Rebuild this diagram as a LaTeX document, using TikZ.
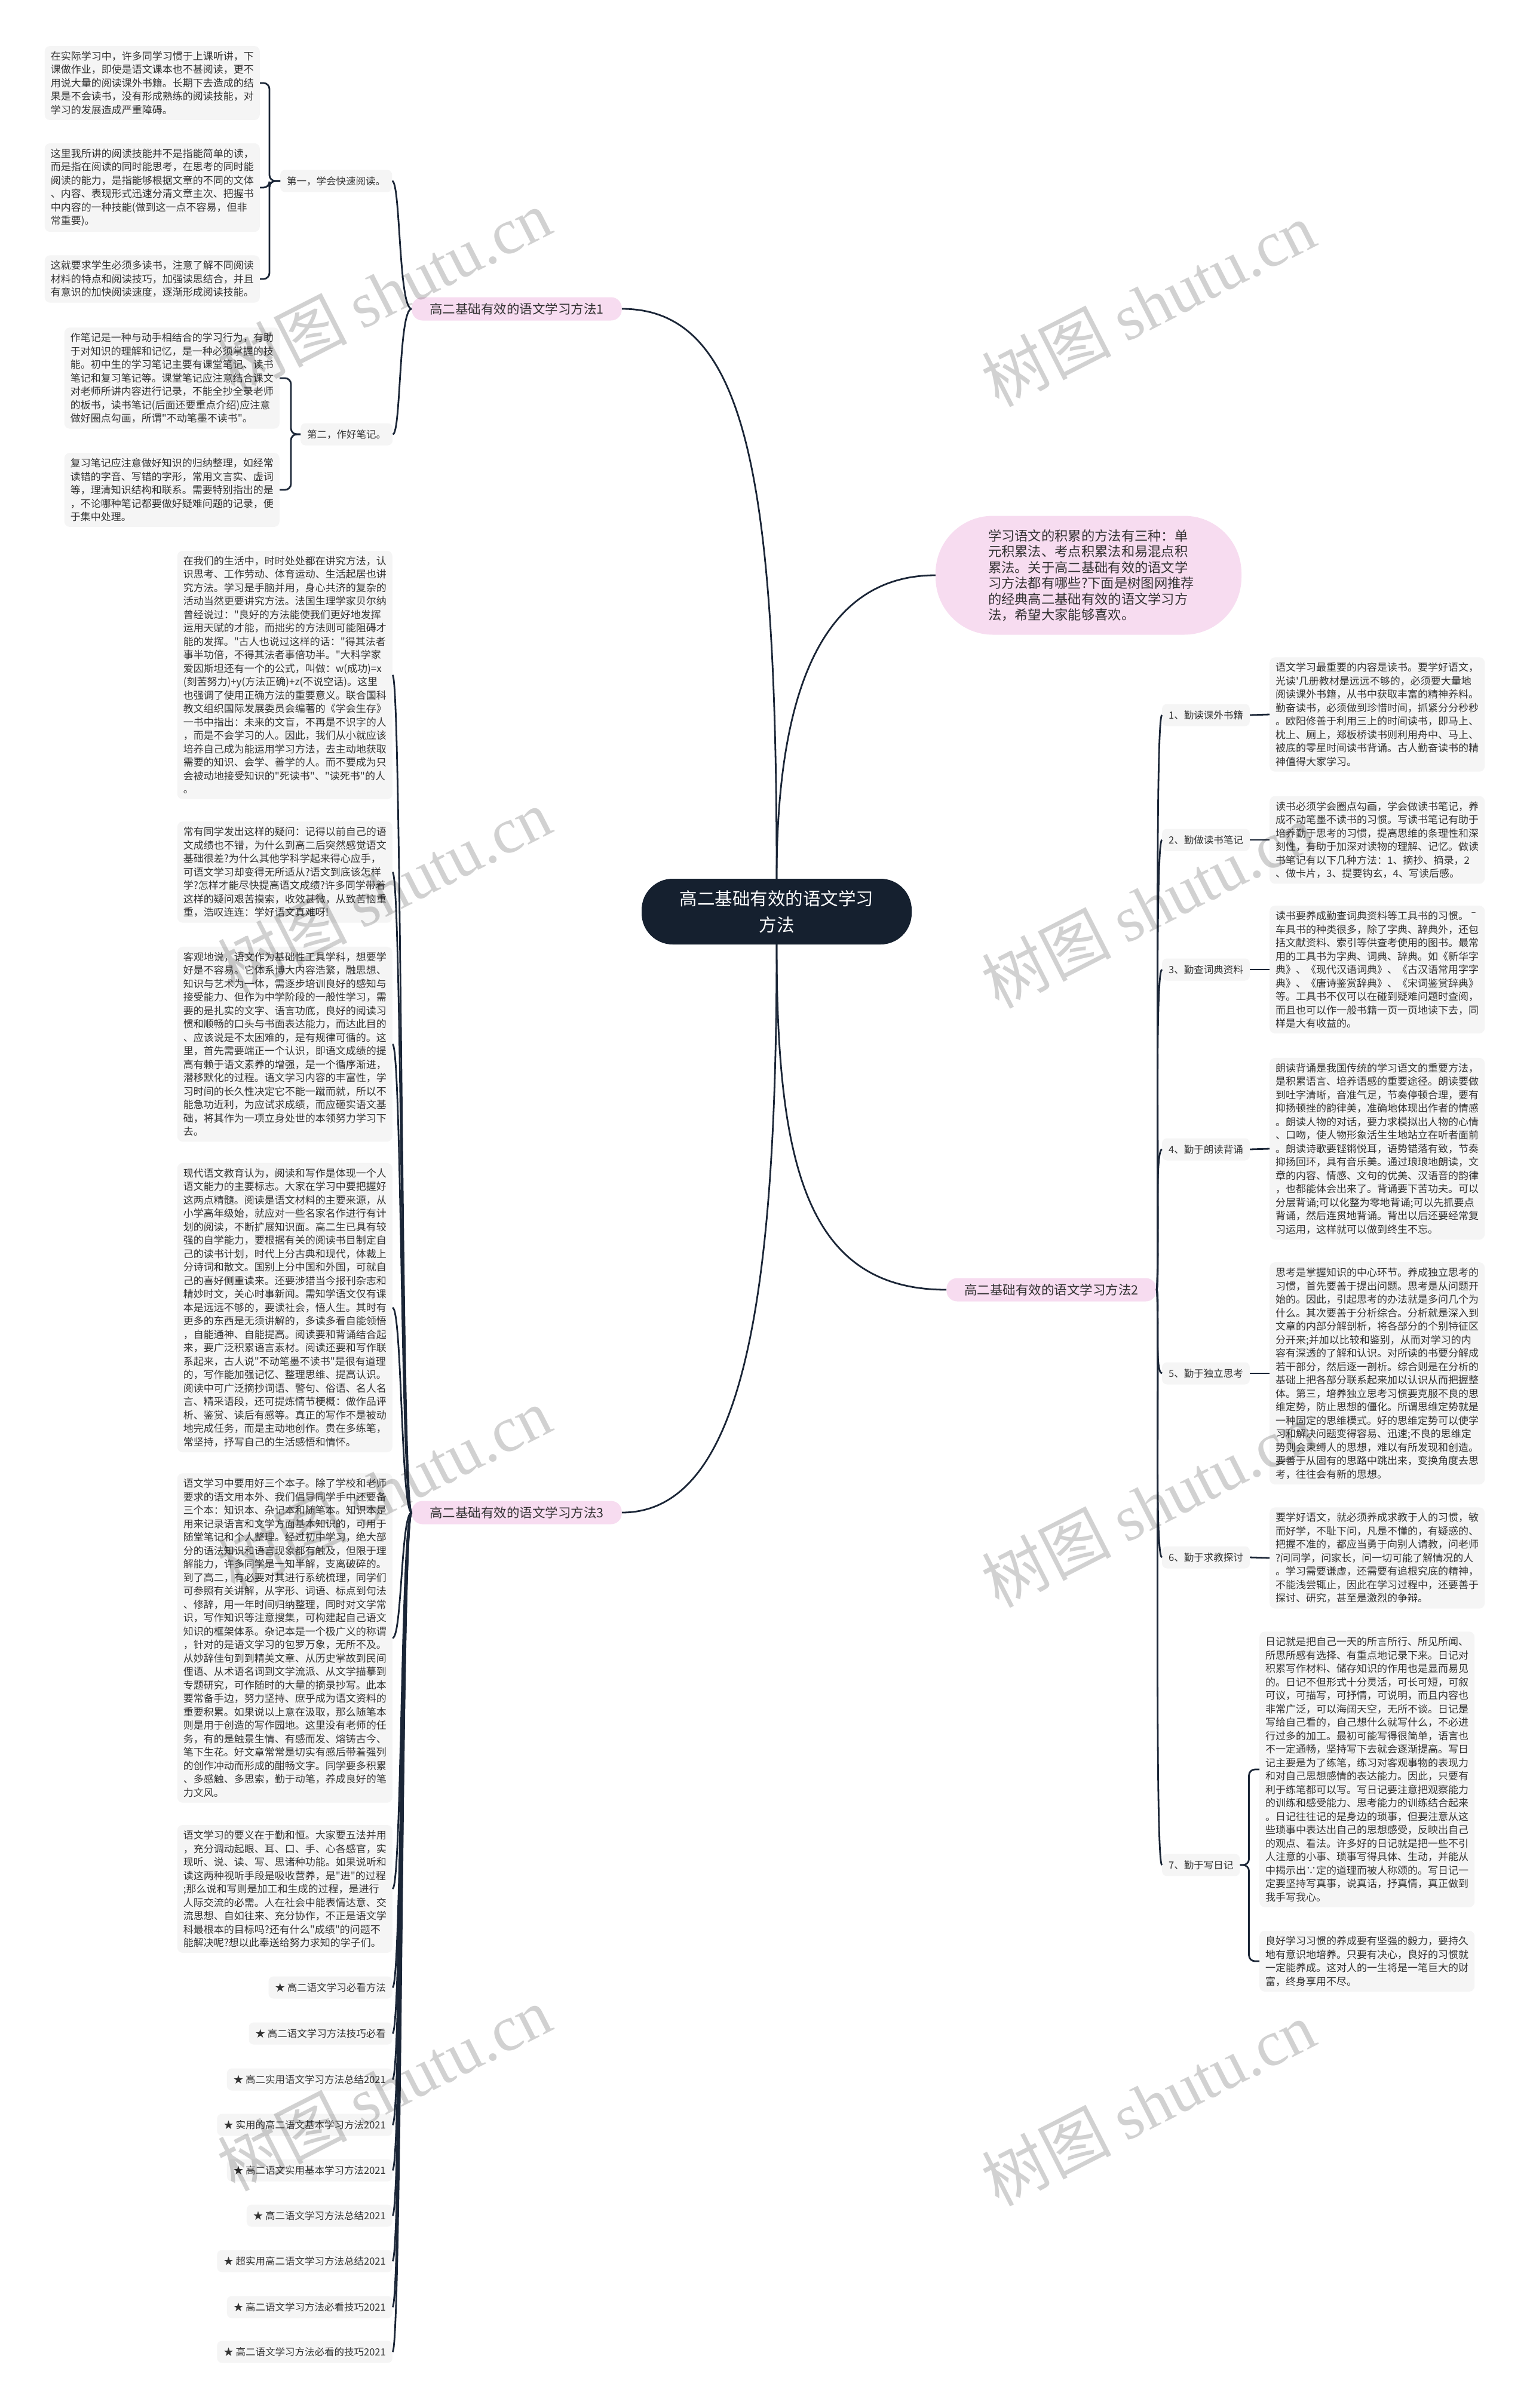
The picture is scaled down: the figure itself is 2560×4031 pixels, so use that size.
\documentclass[tikz,border=0pt]{standalone}
\usepackage{fontspec}
\setmainfont{Noto Sans CJK SC}[Ligatures=TeXOff]
\newfontfamily\wmlatin{Liberation Serif}
\usepackage{tikz}
\definecolor{zhutilan}{HTML}{15202F}
\definecolor{xianlan}{HTML}{1B2637}
\definecolor{fenhong}{HTML}{F7DCF0}
\definecolor{qianhui}{HTML}{F5F5F5}
\definecolor{wenzi}{HTML}{333333}
\newcommand\duanzi{\fontsize{17}{22.5}\selectfont}
\newcommand\biaozi{\fontsize{16.5}{20}\selectfont}
\newcommand\fenzi{\fontsize{21.5}{26}\selectfont}
\newcommand\zhuzi{\fontsize{29.5}{44}\selectfont}
\newcommand\daozi{\fontsize{22.3}{26.5}\selectfont}
\newcommand\yinzi{\fontsize{108}{108}\selectfont}

\begin{document}
\begin{tikzpicture}[x=1pt, y=-1pt,
      zhuti/.style={fill=zhutilan, text=white, rounded corners=52, minimum width=452pt,
                    minimum height=110pt, align=center, font=\zhuzi},
      daoyu/.style={fill=fenhong, text=wenzi, rounded corners=96, minimum width=512pt,
                    minimum height=199pt, text width=336pt, align=left, font=\daozi},
      fenzhi/.style={fill=fenhong, text=wenzi, rounded corners=18, inner xsep=30pt,
                     minimum height=39pt, font=\fenzi},
      biaoqian/.style={fill=qianhui, text=wenzi, rounded corners=8, inner xsep=11pt,
                       minimum height=37pt, font=\biaozi},
      wenben/.style={fill=qianhui, text=wenzi, rounded corners=9, text width=340pt,
                     inner xsep=10pt, inner ysep=9pt, align=left, font=\duanzi},
      lianxian/.style={draw=xianlan, line width=2.8pt},
      shuiyin/.style={text=black, opacity=0.18, font=\yinzi, rotate=27}]
    \fill[white] (0,0) rectangle (2560,4031);
    \useasboundingbox (0,0) rectangle (2560,4031);

    \node[zhuti] (zhongxin) at (1300,1526) {高二基础有效的语文学习\\方法};
    \node[daoyu] (daoyu) at (1822,963) {学习语文的积累的方法有三种：单\\元积累法、考点积累法和易混点积\\累法。关于高二基础有效的语文学\\习方法都有哪些?下面是树图网推荐\\的经典高二基础有效的语文学习方\\法，希望大家能够喜欢。};
    \node[fenzhi] (fangfa1) at (865,517) {高二基础有效的语文学习方法1};
    \node[fenzhi] (fangfa2) at (1760,2159) {高二基础有效的语文学习方法2};
    \node[fenzhi] (fangfa3) at (865,2532) {高二基础有效的语文学习方法3};

    \draw[lianxian] (zhongxin.north) .. controls (1300,800) and (1250,517) .. (fangfa1.east);
    \draw[lianxian] (zhongxin.north) .. controls (1300,1150) and (1380,963) .. (daoyu.west);
    \draw[lianxian] (zhongxin.south) .. controls (1300,1950) and (1350,2159) .. (fangfa2.west);
    \draw[lianxian] (zhongxin.south) .. controls (1300,2150) and (1250,2532) .. (fangfa3.east);

    \node[biaoqian, anchor=west] (yuedu) at (469,303) {第一，学会快速阅读。};
    \node[biaoqian, anchor=west] (biji) at (503,727) {第二，作好笔记。};
    \draw[lianxian] (fangfa1.west) .. controls +(-22,0) and +(14,0) .. (yuedu.east);
    \draw[lianxian] (fangfa1.west) .. controls +(-22,0) and +(14,0) .. (biji.east);

    \node[wenben, anchor=east] (yd1) at (435,139) {在实际学习中，许多同学习惯于上课听讲，下\\课做作业，即使是语文课本也不甚阅读，更不\\用说大量的阅读课外书籍。长期下去造成的结\\果是不会读书，没有形成熟练的阅读技能，对\\学习的发展造成严重障碍。};
    \node[wenben, anchor=east] (yd2) at (435,314) {这里我所讲的阅读技能并不是指能简单的读，\\而是指在阅读的同时能思考，在思考的同时能\\阅读的能力，是指能够根据文章的不同的文体\\、内容、表现形式迅速分清文章主次、把握书\\中内容的一种技能(做到这一点不容易，但非\\常重要)。};
    \node[wenben, anchor=east] (yd3) at (435,467) {这就要求学生必须多读书，注意了解不同阅读\\材料的特点和阅读技巧，加强读思结合，并且\\有意识的加快阅读速度，逐渐形成阅读技能。};
    \node[wenben, anchor=east] (bj1) at (468,633) {作笔记是一种与动手相结合的学习行为，有助\\于对知识的理解和记忆，是一种必须掌握的技\\能。初中生的学习笔记主要有课堂笔记、读书\\笔记和复习笔记等。课堂笔记应注意结合课文\\对老师所讲内容进行记录，不能全抄全录老师\\的板书，读书笔记(后面还要重点介绍)应注意\\做好圈点勾画，所谓"不动笔墨不读书"。};
    \node[wenben, anchor=east] (bj2) at (468,820) {复习笔记应注意做好知识的归纳整理，如经常\\读错的字音、写错的字形，常用文言实、虚词\\等，理清知识结构和联系。需要特别指出的是\\，不论哪种笔记都要做好疑难问题的记录，便\\于集中处理。};
    \foreach \k in {yd1,yd2,yd3}
      \draw[lianxian, rounded corners=10] (yuedu.west) -- ++(-18,0) |- (\k.east);
    \foreach \k in {bj1,bj2}
      \draw[lianxian, rounded corners=10] (biji.west) -- ++(-16,0) |- (\k.east);

    \node[wenben, anchor=east] (duan1) at (657,1130) {在我们的生活中，时时处处都在讲究方法，认\\识思考、工作劳动、体育运动、生活起居也讲\\究方法。学习是手脑并用，身心共济的复杂的\\活动当然更要讲究方法。法国生理学家贝尔纳\\曾经说过："良好的方法能使我们更好地发挥\\运用天赋的才能，而拙劣的方法则可能阻碍才\\能的发挥。"古人也说过这样的话："得其法者\\事半功倍，不得其法者事倍功半。"大科学家\\爱因斯坦还有一个的公式，叫做：w(成功)=x\\(刻苦努力)+y(方法正确)+z(不说空话)。这里\\也强调了使用正确方法的重要意义。联合国科\\教文组织国际发展委员会编著的《学会生存》\\一书中指出：未来的文盲，不再是不识字的人\\，而是不会学习的人。因此，我们从小就应该\\培养自己成为能运用学习方法，去主动地获取\\需要的知识、会学、善学的人。而不要成为只\\会被动地接受知识的"死读书"、"读死书"的人\\。};
    \node[wenben, anchor=east] (duan2) at (657,1460) {常有同学发出这样的疑问：记得以前自己的语\\文成绩也不错，为什么到高二后突然感觉语文\\基础很差?为什么其他学科学起来得心应手，\\可语文学习却变得无所适从?语文到底该怎样\\学?怎样才能尽快提高语文成绩?许多同学带着\\这样的疑问艰苦摸索，收效甚微，从致苦恼重\\重，浩叹连连：学好语文真难呀!};
    \node[wenben, anchor=east] (duan3) at (657,1748) {客观地说，语文作为基础性工具学科，想要学\\好是不容易。它体系博大内容浩繁，融思想、\\知识与艺术为一体，需逐步培训良好的感知与\\接受能力、但作为中学阶段的一般性学习，需\\要的是扎实的文字、语言功底，良好的阅读习\\惯和顺畅的口头与书面表达能力，而达此目的\\、应该说是不太困难的，是有规律可循的。这\\里，首先需要端正一个认识，即语文成绩的提\\高有赖于语文素养的增强，是一个循序渐进，\\潜移默化的过程。语文学习内容的丰富性，学\\习时间的长久性决定它不能一蹴而就，所以不\\能急功近利，为应试求成绩，而应砸实语文基\\础，将其作为一项立身处世的本领努力学习下\\去。};
    \node[wenben, anchor=east] (duan4) at (657,2189) {现代语文教育认为，阅读和写作是体现一个人\\语文能力的主要标志。大家在学习中要把握好\\这两点精髓。阅读是语文材料的主要来源，从\\小学高年级始，就应对一些名家名作进行有计\\划的阅读，不断扩展知识面。高二生已具有较\\强的自学能力，要根据有关的阅读书目制定自\\己的读书计划，时代上分古典和现代，体裁上\\分诗词和散文。国别上分中国和外国，可就自\\己的喜好侧重读来。还要涉猎当今报刊杂志和\\精妙时文，关心时事新闻。需知学语文仅有课\\本是远远不够的，要读社会，悟人生。其时有\\更多的东西是无须讲解的，多读多看自能领悟\\，自能通神、自能提高。阅读要和背诵结合起\\来，要广泛积累语言素材。阅读还要和写作联\\系起来，古人说"不动笔墨不读书"是很有道理\\的，写作能加强记忆、整理思维、提高认识。\\阅读中可广泛摘抄词语、警句、俗语、名人名\\言、精采语段，还可提炼情节梗概：做作品评\\析、鉴赏、读后有感等。真正的写作不是被动\\地完成任务，而是主动地创作。贵在多练笔，\\常坚持，抒写自己的生活感悟和情怀。};
    \node[wenben, anchor=east] (duan5) at (657,2742) {语文学习中要用好三个本子。除了学校和老师\\要求的语文用本外、我们倡导同学手中还要备\\三个本：知识本、杂记本和随笔本。知识本是\\用来记录语言和文学方面基本知识的，可用于\\随堂笔记和个人整理。经过初中学习，绝大部\\分的语法知识和语言现象都有触及，但限于理\\解能力，许多同学是一知半解，支离破碎的。\\到了高二，有必要对其进行系统梳理，同学们\\可参照有关讲解，从字形、词语、标点到句法\\、修辞，用一年时间归纳整理，同时对文学常\\识，写作知识等注意搜集，可构建起自己语文\\知识的框架体系。杂记本是一个极广义的称谓\\，针对的是语文学习的包罗万象，无所不及。\\从妙辞佳句到到精美文章、从历史掌故到民间\\俚语、从术语名词到文学流派、从文学描摹到\\专题研究，可作随时的大量的摘录抄写。此本\\要常备手边，努力坚持、庶乎成为语文资料的\\重要积累。如果说以上意在汲取，那么随笔本\\则是用于创造的写作园地。这里没有老师的任\\务，有的是触景生情、有感而发、熔铸古今、\\笔下生花。好文章常常是切实有感后带着强列\\的创作冲动而形成的酣畅文字。同学要多积累\\、多感触、多思索，勤于动笔，养成良好的笔\\力文风。};
    \node[wenben, anchor=east] (duan6) at (657,3162) {语文学习的要义在于勤和恒。大家要五法并用\\，充分调动起眼、耳、口、手、心各感官，实\\现听、说、读、写、思诸种功能。如果说听和\\读这两种视听手段是吸收营养，是"进"的过程\\;那么说和写则是加工和生成的过程，是进行\\人际交流的必需。人在社会中能表情达意、交\\流思想、自如往来、充分协作，不正是语文学\\科最根本的目标吗?还有什么"成绩"的问题不\\能解决呢?想以此奉送给努力求知的学子们。};
    \foreach \y/\t [count=\i] in {3327/高二语文学习必看方法, 3404/高二语文学习方法技巧必看,
        3481/高二实用语文学习方法总结2021, 3557/实用的高二语文基本学习方法2021,
        3633/高二语文实用基本学习方法2021, 3709/高二语文学习方法总结2021,
        3785/超实用高二语文学习方法总结2021, 3862/高二语文学习方法必看技巧2021,
        3937/高二语文学习方法必看的技巧2021}
      \node[biaoqian, anchor=east] (lian\i) at (657,\y) {★ \t};
    \foreach \k in {duan1,duan2,duan3,duan4,duan5,duan6,lian1,lian2,lian3,lian4,lian5,lian6,lian7,lian8,lian9}
      \draw[lianxian] (fangfa3.west) .. controls +(-18,0) and +(16,0) .. (\k.east);

    \foreach \y/\t [count=\i] in {1197/1、勤读课外书籍, 1406/2、勤做读书笔记, 1623/3、勤查词典资料,
        1924/4、勤于朗读背诵, 2299/5、勤于独立思考, 2607/6、勤于求教探讨, 3122/7、勤于写日记}
      \node[biaoqian, anchor=west] (qin\i) at (1945,\y) {\t};
    \foreach \i in {1,...,7}
      \draw[lianxian] (fangfa2.east) .. controls +(6,0) and +(-14,0) .. (qin\i.west);

    \node[wenben, anchor=west] (shuo1) at (2125,1196) {语文学习最重要的内容是读书。要学好语文，\\光读'几册教材是远远不够的，必须要大量地\\阅读课外书籍，从书中获取丰富的精神养料。\\勤奋读书，必须做到珍惜时间，抓紧分分秒秒\\。欧阳修善于利用三上的时间读书，即马上、\\枕上、厕上，郑板桥读书则利用舟中、马上、\\被底的零星时间读书背诵。古人勤奋读书的精\\神值得大家学习。};
    \node[wenben, anchor=west] (shuo2) at (2125,1406) {读书必须学会圈点勾画，学会做读书笔记，养\\成不动笔墨不读书的习惯。写读书笔记有助于\\培养勤于思考的习惯，提高思维的条理性和深\\刻性，有助于加深对读物的理解、记忆。做读\\书笔记有以下几种方法：1、摘抄、摘录，2\\、做卡片，3、提要钩玄，4、写读后感。};
    \node[wenben, anchor=west] (shuo3) at (2125,1623) {读书要养成勤查词典资料等工具书的习惯。ˉ\\车具书的种类很多，除了字典、辞典外，还包\\括文献资料、索引等供查考使用的图书。最常\\用的工具书为字典、词典、辞典。如《新华字\\典》、《现代汉语词典》、《古汉语常用字字\\典》、《唐诗鉴赏辞典》、《宋词鉴赏辞典》\\等。工具书不仅可以在碰到疑难问题时查阅，\\而且也可以作一般书籍一页一页地读下去，同\\样是大有收益的。};
    \node[wenben, anchor=west] (shuo4) at (2125,1923) {朗读背诵是我国传统的学习语文的重要方法，\\是积累语言、培养语感的重要途径。朗读要做\\到吐字清晰，音准气足，节奏停顿合理，要有\\抑扬顿挫的韵律美，准确地体现出作者的情感\\。朗读人物的对话，要力求模拟出人物的心情\\、口吻，使人物形象活生生地站立在听者面前\\。朗读诗歌要铿锵悦耳，语势错落有致，节奏\\抑扬回环，具有音乐美。通过琅琅地朗读，文\\章的内容、情感、文句的优美、汉语音的韵律\\，也都能体会出来了。背诵要下苦功夫。可以\\分层背诵;可以化整为零地背诵;可以先抓要点\\背诵，然后连贯地背诵。背出以后还要经常复\\习运用，这样就可以做到终生不忘。};
    \node[wenben, anchor=west] (shuo5) at (2125,2299) {思考是掌握知识的中心环节。养成独立思考的\\习惯，首先要善于提出问题。思考是从问题开\\始的。因此，引起思考的办法就是多问几个为\\什么。其次要善于分析综合。分析就是深入到\\文章的内部分解剖析，将各部分的个别特征区\\分开来;并加以比较和鉴别，从而对学习的内\\容有深透的了解和认识。对所读的书要分解成\\若干部分，然后逐一剖析。综合则是在分析的\\基础上把各部分联系起来加以认识从而把握整\\体。第三，培养独立思考习惯要克服不良的思\\维定势，防止思想的僵化。所谓思维定势就是\\一种固定的思维模式。好的思维定势可以使学\\习和解决问题变得容易、迅速;不良的思维定\\势则会束缚人的思想，难以有所发现和创造。\\要善于从固有的思路中跳出来，变换角度去思\\考，往往会有新的思想。};
    \node[wenben, anchor=west] (shuo6) at (2125,2608) {要学好语文，就必须养成求教于人的习惯，敏\\而好学，不耻下问，凡是不懂的，有疑惑的、\\把握不准的，都应当勇于向别人请教，问老师\\?问同学，问家长，问一切可能了解情况的人\\。学习需要谦虚，还需要有追根究底的精神，\\不能浅尝辄止，因此在学习过程中，还要善于\\探讨、研究，甚至是激烈的争辩。};
    \node[wenben, anchor=west] (shuo7) at (2108,2962) {日记就是把自己一天的所言所行、所见所闻、\\所思所感有选择、有重点地记录下来。日记对\\积累写作材料、储存知识的作用也是显而易见\\的。日记不但形式十分灵活，可长可短，可叙\\可议，可描写，可抒情，可说明，而且内容也\\非常广泛，可以海阔天空，无所不谈。日记是\\写给自己看的，自己想什么就写什么，不必进\\行过多的加工。最初可能写得很简单，语言也\\不一定通畅，坚持写下去就会逐渐提高。写日\\记主要是为了练笔，练习对客观事物的表现力\\和对自己思想感情的表达能力。因此，只要有\\利于练笔都可以写。写日记要注意把观察能力\\的训练和感受能力、思考能力的训练结合起来\\。日记往往记的是身边的琐事，但要注意从这\\些琐事中表达出自己的思想感受，反映出自己\\的观点、看法。许多好的日记就是把一些不引\\人注意的小事、琐事写得具体、生动，并能从\\中揭示出∵定的道理而被人称颂的。写日记一\\定要坚持写真事，说真话，抒真情，真正做到\\我手写我心。};
    \node[wenben, anchor=west] (shuo8) at (2108,3283) {良好学习习惯的养成要有坚强的毅力，要持久\\地有意识地培养。只要有决心，良好的习惯就\\一定能养成。这对人的一生将是一笔巨大的财\\富，终身享用不尽。};
    \foreach \i in {1,...,6}
      \draw[lianxian] (qin\i.east) -- (shuo\i.west);
    \foreach \k in {shuo7,shuo8}
      \draw[lianxian, rounded corners=10] (qin7.east) -- ++(15,0) |- (\k.west);

    \foreach \x/\y [count=\i] in {643/488, 1922/509, 643/1491, 1922/1516,
        643/2493, 1922/2519, 643/3496, 1922/3521}
      \node[shuiyin] (shuiyin\i) at (\x,\y) {树图 {\wmlatin shutu.cn}};
  \end{tikzpicture}
\end{document}
